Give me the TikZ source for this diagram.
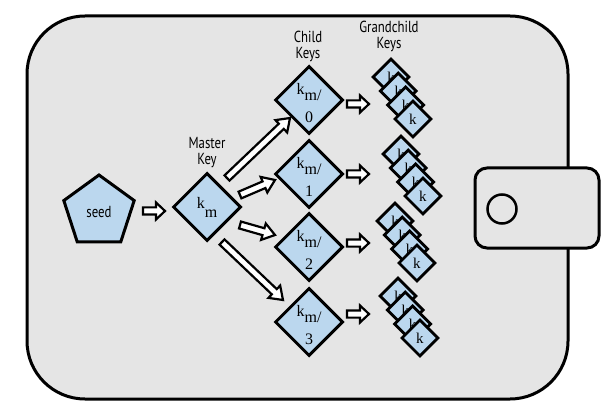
\documentclass[tikz,border=0pt]{standalone}
\usepackage{fontspec}
\newfontfamily\labfont[FakeStretch=0.8]{PT Sans}
\newfontfamily\kfont{Liberation Serif}
\usetikzlibrary{shapes.geometric,calc}
\definecolor{walletgray}{RGB}{229,229,229}
\definecolor{keyblue}{RGB}{187,215,238}
\newcommand\hollowarrow[3][12pt]{%
  \coordinate (hb) at ($(#3)!#1!(#2)$);
  \draw[harr] ($(#2)!3.6pt!90:(#3)$) -- ($(hb)!3.6pt!90:(#3)$) -- ($(hb)!8.5pt!90:(#3)$) -- (#3)
    -- ($(hb)!8.5pt!-90:(#3)$) -- ($(hb)!3.6pt!-90:(#3)$) -- ($(#2)!3.6pt!-90:(#3)$) -- cycle;}
\tikzset{
  keybox/.style={diamond, aspect=1, draw, line width=3pt, fill=keyblue, inner sep=0pt,
    minimum width=68pt, minimum height=68pt},
  smallkey/.style={diamond, aspect=1, draw, line width=2.8pt, fill=keyblue, inner sep=0pt,
    minimum width=37pt, minimum height=37pt,
    label={center:{\kfont\fontsize{15}{15}\selectfont k}}},
  seedbox/.style={regular polygon, regular polygon sides=5, draw, line width=3pt, fill=keyblue,
    inner sep=0pt, minimum size=74pt, font=\labfont\fontsize{16}{16}\selectfont},
  labtext/.style={font=\labfont\fontsize{16}{16}\selectfont, align=center, inner sep=0pt},
  ktext/.style={font=\kfont\fontsize{16}{28}\selectfont, align=center, inner sep=0pt},
  harr/.style={draw, fill=white, line width=2.2pt, line join=miter},
  wallet/.style={line width=3pt, fill=walletgray},
}
\begin{document}
\begin{tikzpicture}[x=1pt,y=-1pt]
\useasboundingbox (0,0) rectangle (613,406);
\fill[white] (0,0) rectangle (613,406);
% wallet
\draw[wallet, rounded corners=58pt] (27,16) rectangle (568,399);
\draw[wallet, rounded corners=12pt] (475,168) rectangle (599,248);
\draw[line width=2.5pt] (502,209) circle (14.5);
% seed and master
\node[seedbox] (seed) at (99,212) {seed};
\node[keybox] (m) at (207,207) {};
\node[ktext] (mt) at (m) {k\raisebox{-9pt}{m}};
\node[labtext] (mlab) at (207,153) {Master\\Key};
% children
\node[keybox] (c0) at (309,100) {};
\node[keybox] (c1) at (309,174) {};
\node[keybox] (c2) at (309,247) {};
\node[keybox] (c3) at (309,322) {};
\node[ktext] (c0t) at ([yshift=-3pt]c0.center) {k\raisebox{-6pt}{m/}\\0};
\node[ktext] (c1t) at ([yshift=-3pt]c1.center) {k\raisebox{-6pt}{m/}\\1};
\node[ktext] (c2t) at ([yshift=-3pt]c2.center) {k\raisebox{-6pt}{m/}\\2};
\node[ktext] (c3t) at ([yshift=-3pt]c3.center) {k\raisebox{-6pt}{m/}\\3};
\node[labtext] (clab) at (308,46) {Child\\Keys};
\node[labtext] (glab) at (389,36) {Grandchild\\Keys};
% grandchildren
\foreach \i in {0,...,3} {
  \node[smallkey] (ga\i) at ([shift={(\i*7.3,\i*14)}]391,77) {};
}
\foreach \i in {0,...,3} {
  \node[smallkey] (gb\i) at ([shift={(\i*7.3,\i*14)}]401,154) {};
}
\foreach \i in {0,...,3} {
  \node[smallkey] (gc\i) at ([shift={(\i*7.3,\i*14)}]395,221) {};
}
\foreach \i in {0,...,3} {
  \node[smallkey] (gd\i) at ([shift={(\i*7.3,\i*14)}]398,296) {};
}
% arrow end points
\coordinate (sa) at ([shift={(44,-1)}]seed.center);
\coordinate (sb) at ([shift={(-42,4)}]m.center);
\coordinate (a0s) at ([shift={(20,-29)}]m.center);
\coordinate (a0e) at ([shift={(-19,18)}]c0.center);
\coordinate (a1s) at ([shift={(33,-12)}]m.center);
\coordinate (a1e) at ([shift={(-34,6)}]c1.center);
\coordinate (a2s) at ([shift={(33,18)}]m.center);
\coordinate (a2e) at ([shift={(-34,-12)}]c2.center);
\coordinate (a3s) at ([shift={(15,35)}]m.center);
\coordinate (a3e) at ([shift={(-26,-22)}]c3.center);
\coordinate (b0s) at ([shift={(38,4)}]c0.center);
\coordinate (b0e) at ([shift={(60,4)}]c0.center);
\coordinate (b1s) at ([shift={(38,0)}]c1.center);
\coordinate (b1e) at ([shift={(60,0)}]c1.center);
\coordinate (b2s) at ([shift={(38,-4)}]c2.center);
\coordinate (b2e) at ([shift={(60,-4)}]c2.center);
\coordinate (b3s) at ([shift={(38,-8)}]c3.center);
\coordinate (b3e) at ([shift={(60,-8)}]c3.center);
% arrows
\hollowarrow[9pt]{sa}{sb}
\hollowarrow{a0s}{a0e}
\hollowarrow{a1s}{a1e}
\hollowarrow{a2s}{a2e}
\hollowarrow{a3s}{a3e}
\hollowarrow[9pt]{b0s}{b0e}
\hollowarrow[9pt]{b1s}{b1e}
\hollowarrow[9pt]{b2s}{b2e}
\hollowarrow[9pt]{b3s}{b3e}
\end{tikzpicture}
\end{document}
